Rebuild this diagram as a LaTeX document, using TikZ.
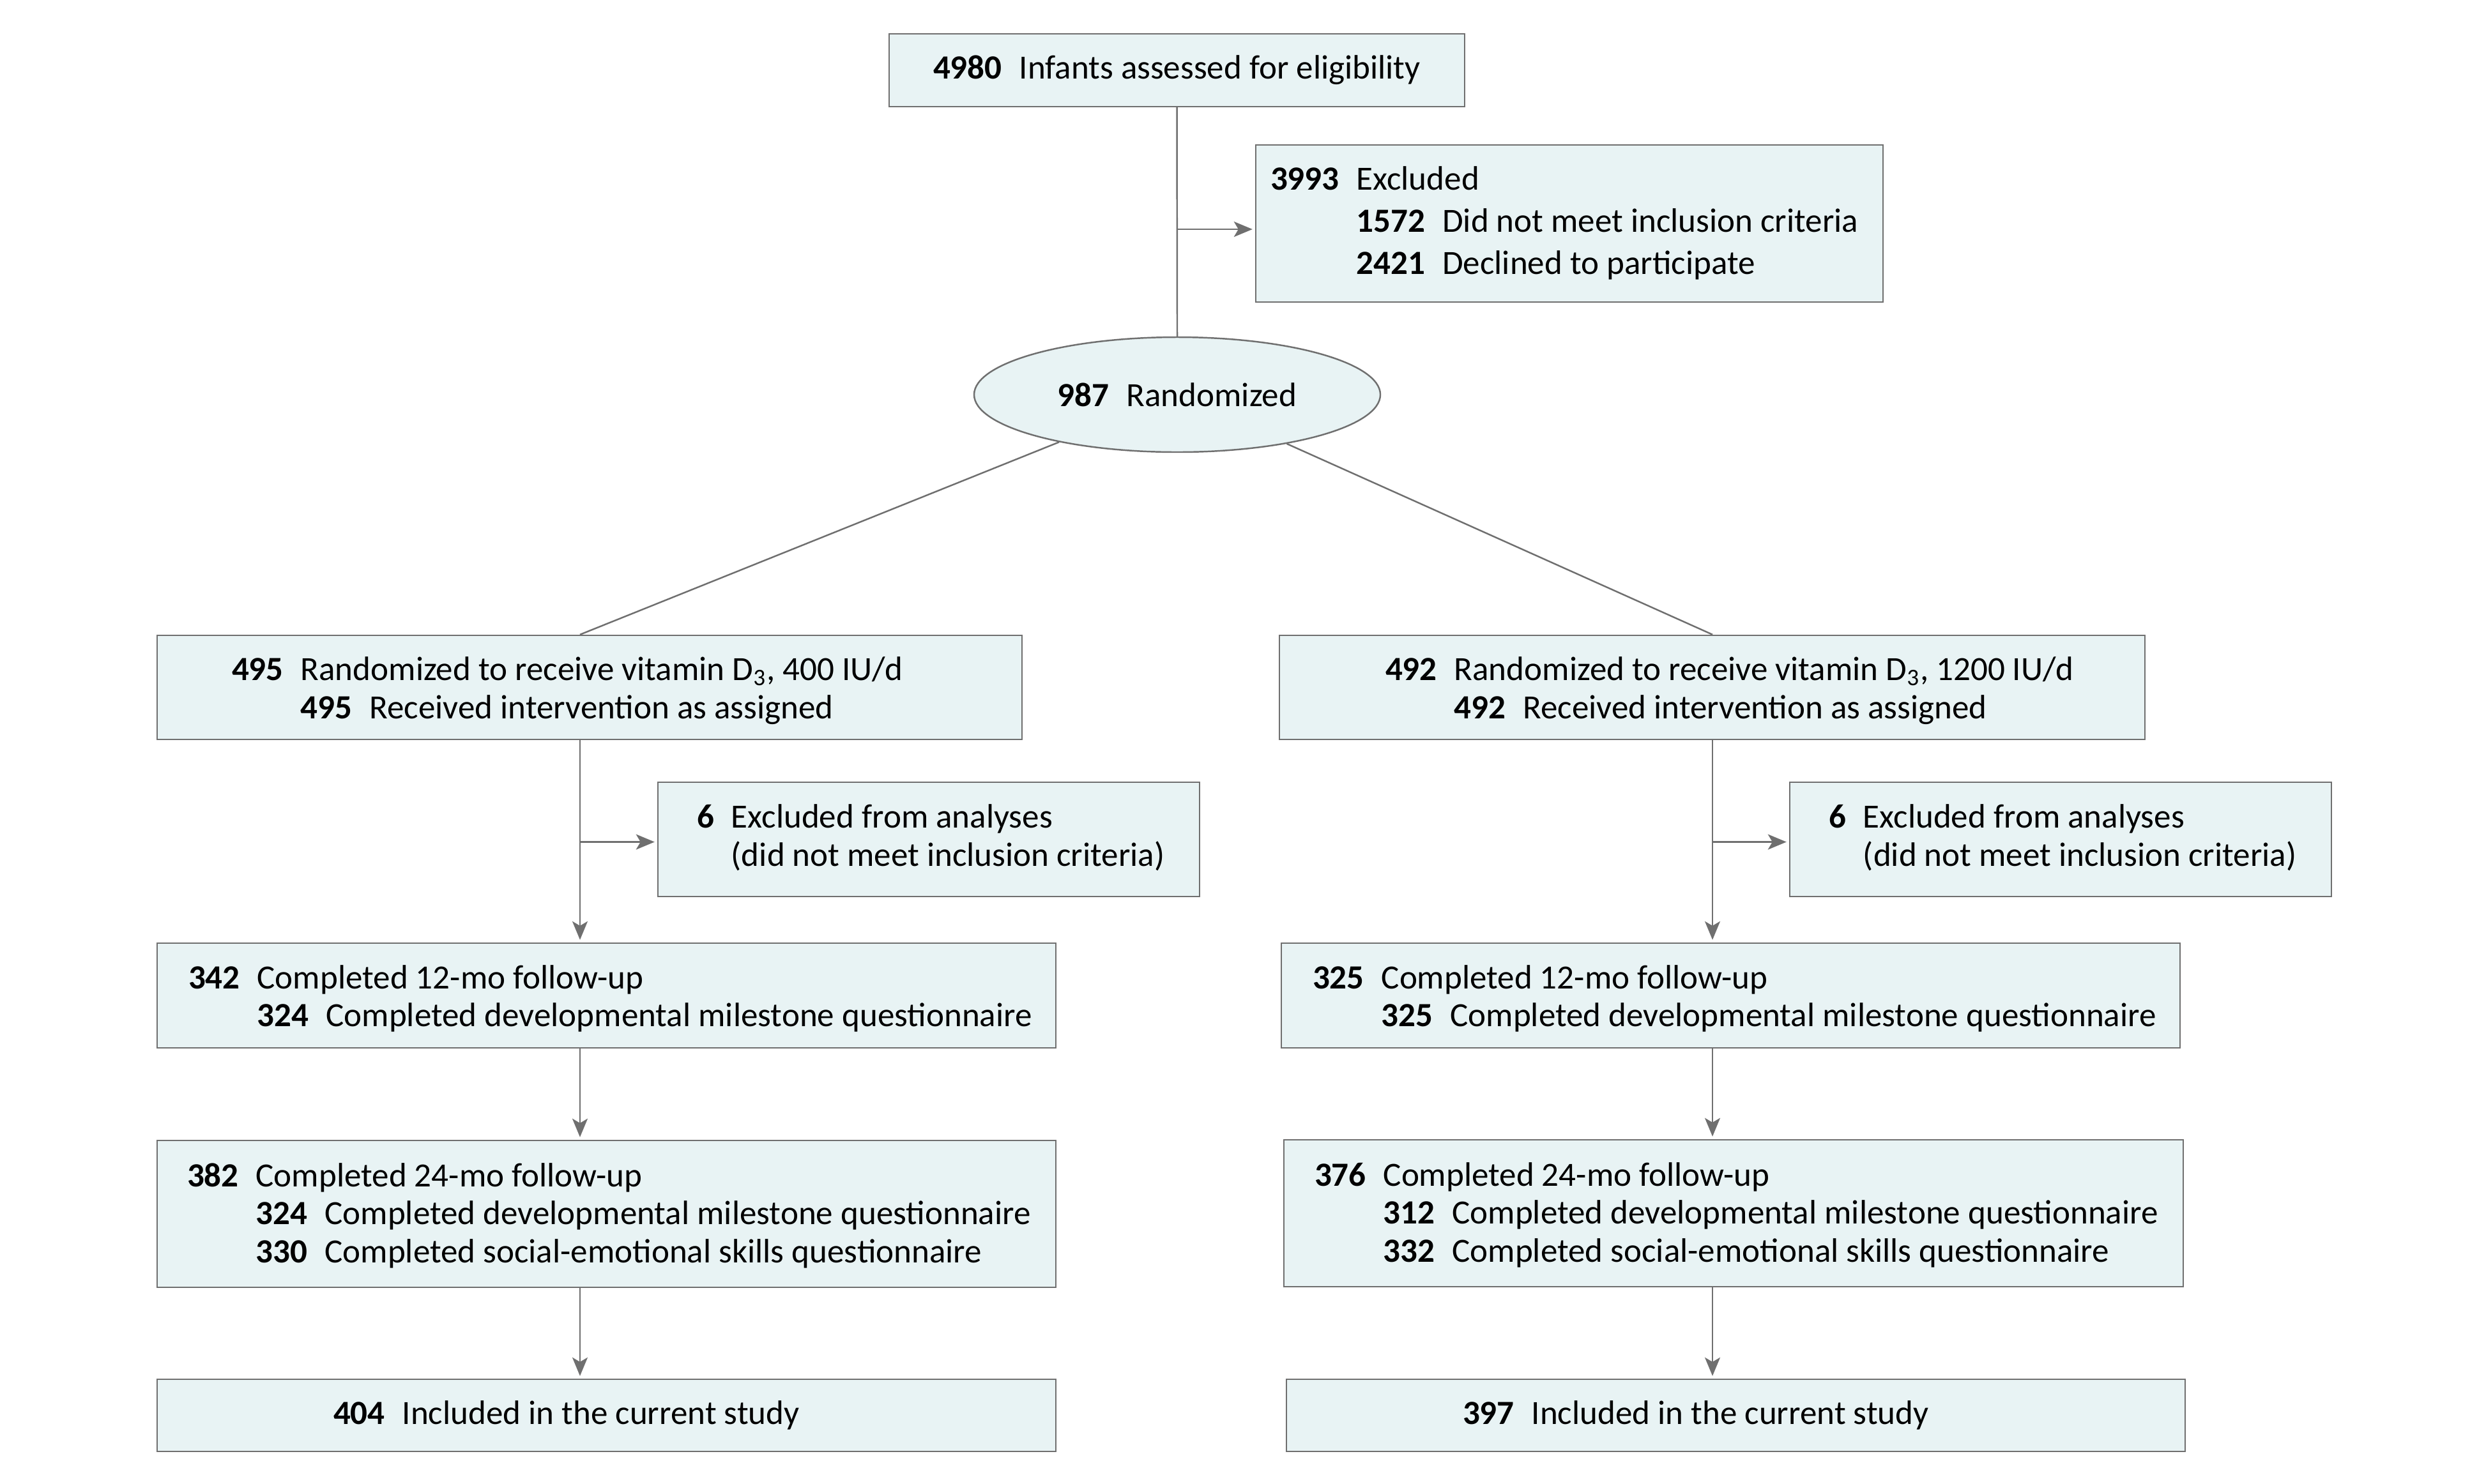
\documentclass[tikz,border=0pt]{standalone}
\usepackage{fontspec}
\setmainfont{Carlito}
\usetikzlibrary{shapes.geometric, arrows.meta, positioning}

\definecolor{boxfill}{HTML}{E8F3F4}
\definecolor{linegray}{HTML}{6F6F6F}

\newcommand{\cnt}[1]{\textbf{#1}\hspace{0.27cm}}
\newcommand{\fixw}[2]{\makebox[#1][l]{#2}}
\newcommand{\rows}[2][0cm]{\raisebox{-#1}[\height][\depth]{\begin{tabular}{@{}l@{\hspace{0.27cm}}l@{}}#2\end{tabular}}}

\tikzset{
  box/.style={rectangle, draw=linegray, fill=boxfill, line width=0.7pt, inner ysep=0pt,
    font=\fontsize{15.1}{16.9}\selectfont},
  oval/.style={ellipse, draw=linegray, fill=boxfill, line width=0.7pt, inner sep=0pt,
    font=\fontsize{15.1}{16.9}\selectfont},
  conn/.style={draw=linegray, line width=0.7pt},
  arr/.style={conn, shorten >=0.4mm, -{Stealth[length=2.9mm,width=2.4mm,inset=0.7mm]}}
}

\begin{document}
\begin{tikzpicture}
  \fill[white] (0,0) rectangle (38.92,-23.23);
  \useasboundingbox (0,0) rectangle (38.92,-23.23);

  % trunk
  \node[box, minimum width=9.01cm, minimum height=1.14cm] (elig) at (18.425,-1.10)
    {\cnt{4980}Infants assessed for eligibility};
  \node[box, inner xsep=0.23cm, minimum height=2.46cm, font=\fontsize{15.1}{18.8}\selectfont] (excl) at (24.57,-3.50)
    {\fixw{9.36cm}{\rows{\textbf{3993} & Excluded\\
      & \cnt{1572}Did not meet inclusion criteria\\
      & \cnt{2421}Declined to participate}}};
  \node[oval, minimum width=6.36cm, minimum height=1.80cm] (rand) at (18.43,-6.18)
    {\cnt{987}Randomized};

  \coordinate (colL) at (9.08,0);
  \coordinate (colR) at (26.81,0);

  % 400 IU/d arm
  \node[box, inner xsep=1.17cm, minimum height=1.63cm] (armL) at (9.23,-10.765)
    {\fixw{11.20cm}{\rows[0.07cm]{\textbf{495} & Randomized to receive vitamin D\textsubscript{3}, 400 IU/d\\
      & \cnt{495}Received intervention as assigned}}};
  \node[box, inner xsep=0.61cm, minimum height=1.79cm] (exL) at (14.54,-13.145)
    {\fixw{7.26cm}{\rows{\textbf{6} & Excluded from analyses\\
      & (did not meet inclusion criteria)}}};
  \node[box, inner xsep=0.49cm, minimum height=1.64cm] (mo12L) at (9.495,-15.59)
    {\fixw{13.09cm}{\rows[0.07cm]{\textbf{342} & Completed 12-mo follow-up\\
      & \cnt{324}Completed developmental milestone questionnaire}}};
  \node[box, inner xsep=0.47cm, minimum height=2.30cm] (mo24L) at (9.495,-19.01)
    {\fixw{13.13cm}{\rows[0.05cm]{\textbf{382} & Completed 24-mo follow-up\\
      & \cnt{324}Completed developmental milestone questionnaire\\
      & \cnt{330}Completed social-emotional skills questionnaire}}};
  \node[box, inner xsep=2.76cm, minimum height=1.13cm] (studyL) at (9.495,-22.165)
    {\fixw{8.55cm}{\cnt{404}Included in the current study}};

  % 1200 IU/d arm
  \node[box, inner xsep=1.66cm, minimum height=1.63cm] (armR) at (26.805,-10.765)
    {\fixw{10.23cm}{\rows[0.07cm]{\textbf{492} & Randomized to receive vitamin D\textsubscript{3}, 1200 IU/d\\
      & \cnt{492}Received intervention as assigned}}};
  \node[box, inner xsep=0.61cm, minimum height=1.79cm] (exR) at (32.26,-13.145)
    {\fixw{7.26cm}{\rows{\textbf{6} & Excluded from analyses\\
      & (did not meet inclusion criteria)}}};
  \node[box, inner xsep=0.49cm, minimum height=1.64cm] (mo12R) at (27.095,-15.59)
    {\fixw{13.09cm}{\rows[0.07cm]{\textbf{325} & Completed 12-mo follow-up\\
      & \cnt{325}Completed developmental milestone questionnaire}}};
  \node[box, inner xsep=0.48cm, minimum height=2.30cm] (mo24R) at (27.14,-19.00)
    {\fixw{13.12cm}{\rows[0.05cm]{\textbf{376} & Completed 24-mo follow-up\\
      & \cnt{312}Completed developmental milestone questionnaire\\
      & \cnt{332}Completed social-emotional skills questionnaire}}};
  \node[box, inner xsep=2.76cm, minimum height=1.13cm] (studyR) at (27.175,-22.165)
    {\fixw{8.55cm}{\cnt{397}Included in the current study}};

  % entry points of the side arrows
  \coordinate (exclIn) at ([yshift=-0.09cm]excl.west);
  \coordinate (exLIn) at ([yshift=-0.04cm]exL.west);
  \coordinate (exRIn) at ([yshift=-0.04cm]exR.west);

  % connectors
  \draw[conn] (elig.south) -- (rand.north);
  \draw[arr] (elig.south |- exclIn) -- (exclIn);
  \draw[conn] (rand) -- (armL.north -| colL);
  \draw[conn] (rand) -- (armR.north -| colR);

  \draw[arr] (armL.south -| colL) -- (mo12L.north -| colL);
  \draw[arr] (colL |- exLIn) -- (exLIn);
  \draw[arr] (mo12L.south -| colL) -- (mo24L.north -| colL);
  \draw[arr] (mo24L.south -| colL) -- (studyL.north -| colL);

  \draw[arr] (armR.south -| colR) -- (mo12R.north -| colR);
  \draw[arr] (colR |- exRIn) -- (exRIn);
  \draw[arr] (mo12R.south -| colR) -- (mo24R.north -| colR);
  \draw[arr] (mo24R.south -| colR) -- (studyR.north -| colR);
\end{tikzpicture}
\end{document}
